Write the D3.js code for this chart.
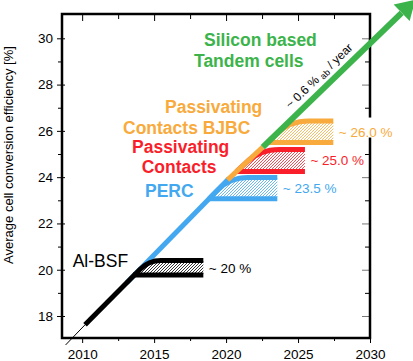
<!DOCTYPE html>
<html><head><meta charset="utf-8">
<script src="https://cdn.jsdelivr.net/npm/d3@7"></script>
<style>
html,body{margin:0;padding:0;background:#fff;}
svg{display:block;font-family:'Liberation Sans',Arial,Helvetica,sans-serif;}
</style></head><body>
<svg id="chart" width="413" height="361"></svg>
<script>
// ---------- data ----------
const xTicksMajor = [2010, 2015, 2020, 2025, 2030];
const xTicksMinor = [2012.5, 2017.5, 2022.5, 2027.5];
const yTicksMajor = [18, 20, 22, 24, 26, 28, 30];
const yTicksMinor = [19, 21, 23, 25, 27, 29];
const yTitle = "Average cell conversion efficiency [%]";

// efficiency trend line (year -> %)
const trendYears  = [2008.85, 2010.2, 2013.6, 2020.1, 2022.55, 2032.2];
const trendValues = [16.75,   17.62,  19.75,  23.88,  25.3,    31.1];

// segments of the trend line
const segNames     = ["thin", "Al-BSF", "PERC", "BJBC", "Tandem"];
const segStartYear = [2008.85, 2010.2, 2013.1, 2020.1, 2022.55];
const segEndYear   = [2010.2, 2013.7, 2020.2, 2022.55, 2032.2];

// technology bands
const techNames    = ["Al-BSF", "PERC", "Passivating Contacts", "Passivating Contacts BJBC"];
const bandBottom   = [19.77, 23.07, 24.24, 25.5];
const bandTop      = [20.4, 23.98, 25.19, 26.43];
const bandEndYear  = [2018.42, 2023.56, 2025.48, 2027.45];
const bandLabels   = ["~ 20 %", "~ 23.5 %", "~ 25.0 %", "~ 26.0 %"];
const nameLines    = [["Al-BSF"], ["PERC"], ["Passivating", "Contacts"], ["Passivating", "Contacts BJBC"]];
const tandemLines  = ["Silicon based", "Tandem cells"];
const rateText     = ["~ 0.6 % ", "ab", " / year"];

// ---------- styles / layout ----------
const FONT = "'Liberation Sans', Arial, Helvetica, sans-serif";
const C = {black: "#000000", blue: "#43a8f0", red: "#fa1e2b", orange: "#f8aa3c", green: "#3cb44b"};
const bandColors = [C.black, C.blue, C.red, C.orange];
const segColors = [C.black, C.black, C.blue, C.orange, C.green];
const segWidths = [1, 5, 5, 5, 6];
const nameLayout = [
  [[72.7, 266.7]],
  [[145, 196.7]],
  [[132, 153.3], [141.7, 173.3]],
  [[165, 113.3], [123, 134.3]]
];
const nameWeight = ["normal", "bold", "bold", "bold"];
const tandemLayout = [[204, 46], [194, 66.7]];

const svg = d3.select("#chart");
const x = d3.scaleLinear().domain([2008.6, 2030]).range([62, 370]);
const y = d3.scaleLinear().domain([17.05, 31.05]).range([338, 14]);
const trend = d3.scaleLinear().domain(trendYears).range(trendValues);
const fmt = d3.format("d");

// patterns
const defs = svg.append("defs");
bandColors.forEach((c, i) => {
  const p = defs.append("pattern").attr("id", "hatch" + i)
    .attr("patternUnits", "userSpaceOnUse").attr("width", 3).attr("height", 3);
  p.append("rect").attr("width", 3).attr("height", 3).attr("fill", "#fff");
  p.append("path").attr("d", "M-1,1 l2,-2 M0,3 l3,-3 M2,4 l2,-2")
    .attr("stroke", c).attr("stroke-width", 0.8);
});

// ---------- axes ----------
const F = 13.5;
const gL = svg.append("g").attr("transform", "translate(62,0)")
  .call(d3.axisLeft(y).tickValues(yTicksMajor).tickSize(5).tickPadding(4).tickFormat(fmt));
gL.selectAll(".tick line").attr("x1", 3).attr("x2", -5);
svg.append("g").attr("transform", "translate(62,0)")
  .call(d3.axisLeft(y).tickValues(yTicksMinor).tickSize(4).tickFormat(""));
svg.append("g").attr("transform", "translate(0,338)")
  .call(d3.axisBottom(x).tickValues(xTicksMajor).tickSize(5).tickPadding(6).tickFormat(fmt));
svg.append("g").attr("transform", "translate(0,338)")
  .call(d3.axisBottom(x).tickValues(xTicksMinor).tickSize(3).tickFormat(""));
svg.append("g").attr("transform", "translate(0,14)")
  .call(d3.axisTop(x).tickValues(xTicksMajor).tickSize(-7).tickFormat(""));
svg.append("g").attr("transform", "translate(0,14)")
  .call(d3.axisTop(x).tickValues(xTicksMinor).tickSize(-5).tickFormat(""));
const gR = svg.append("g").attr("transform", "translate(370,0)")
  .call(d3.axisRight(y).tickValues(yTicksMajor).tickSize(-8).tickFormat(""));
svg.append("g").attr("transform", "translate(370,0)")
  .call(d3.axisRight(y).tickValues(yTicksMinor).tickSize(-5).tickFormat(""));
svg.selectAll(".domain").remove();
svg.selectAll(".tick text").attr("font-size", F).attr("font-family", FONT).attr("fill", "#000");
svg.selectAll(".tick line").attr("stroke-width", 1);
gR.selectAll(".tick line").attr("stroke", "#777");

// frame
svg.append("rect").attr("x", x.range()[0]).attr("y", y.range()[1])
  .attr("width", x.range()[1] - x.range()[0]).attr("height", y.range()[0] - y.range()[1])
  .attr("fill", "none").attr("stroke", "#000").attr("stroke-width", 2.5);

// y title
svg.append("text").attr("transform", "translate(12.5,155) rotate(-90)")
  .attr("text-anchor", "middle").attr("font-size", 13).attr("font-family", FONT).text(yTitle);

// ---------- trend line segments ----------
const lineGen = d3.line().x(d => x(d)).y(d => y(trend(d)));
function drawSeg(i) {
  svg.append("path").attr("d", lineGen([segStartYear[i], segEndYear[i]]))
    .attr("fill", "none").attr("stroke", segColors[i]).attr("stroke-width", segWidths[i]);
}

// ---------- bands ----------
function drawBand(i) {
  const t0 = trend.invert(bandBottom[i]);
  const t1 = trend.invert(bandTop[i]);
  const p0 = [x(t0), y(bandBottom[i])];
  const pc = [x(t1), y(bandTop[i])];
  const pe = [x(bandEndYear[i]), y(bandTop[i])];
  const pb = [x(bandEndYear[i]), y(bandBottom[i])];
  const dx = pc[0] - p0[0], dy = pc[1] - p0[1];
  const len = Math.hypot(dx, dy);
  const r = len * 0.6;
  const A = [pc[0] - dx / len * r, pc[1] - dy / len * r];
  const B = [pc[0] + r, pc[1]];
  const top = `M${p0}L${A}Q${pc} ${B}L${pe}`;
  svg.append("path").attr("d", top + `L${pb}Z`).attr("fill", `url(#hatch${i})`);
  svg.append("path").attr("d", `M${p0}L${pb}`).attr("stroke", bandColors[i])
    .attr("stroke-width", 5).attr("fill", "none");
  svg.append("path").attr("d", top).attr("stroke", bandColors[i])
    .attr("stroke-width", 5).attr("fill", "none");
  // value label
  const lab = svg.append("text").attr("x", pe[0] + 5.5).attr("y", (pe[1] + pb[1]) / 2)
    .attr("dy", "0.36em").attr("font-size", F).attr("font-family", FONT)
    .attr("fill", i === 0 ? "#000" : bandColors[i])
    .text(bandLabels[i]);
  if (i === 3) {
    const bb = lab.node().getBBox();
    svg.insert("rect", function () { return lab.node(); })
      .attr("x", bb.x - 1).attr("y", bb.y - 7).attr("width", bb.width + 2)
      .attr("height", bb.height + 5).attr("fill", "#fff");
  }
}

drawSeg(2);   // blue
drawSeg(0);   // thin
drawSeg(1);   // black
drawBand(0);
drawBand(1);
drawBand(2);
drawSeg(3);   // orange
drawBand(3);
drawSeg(4);   // green

// arrow head
{
  const s = [x(segStartYear[4]), y(trend(segStartYear[4]))];
  const e = [x(segEndYear[4]), y(trend(segEndYear[4]))];
  const dx = e[0] - s[0], dy = e[1] - s[1], L = Math.hypot(dx, dy);
  const ux = dx / L, uy = dy / L, nx = -uy, ny = ux;
  const tip = [e[0] + ux * 19, e[1] + uy * 19];
  const w1 = [e[0] + nx * 11.5, e[1] + ny * 11.5];
  const w2 = [e[0] - nx * 11.5, e[1] - ny * 11.5];
  svg.append("path").attr("d", `M${tip}L${w1}L${w2}Z`).attr("fill", C.green);

  // rate text
  const tr = 2024.85;
  const p = [x(tr), y(trend(tr))];
  const ang = Math.atan2(dy, dx) * 180 / Math.PI;
  const off = 8;
  const px = p[0] + uy * off, py = p[1] - ux * off;
  const t = svg.append("text").attr("transform", `translate(${px},${py}) rotate(${ang})`)
    .attr("font-size", 12).attr("font-family", FONT).attr("fill", "#000");
  t.append("tspan").text(rateText[0]);
  t.append("tspan").attr("font-size", 9).attr("dy", 2).text(rateText[1]);
  t.append("tspan").attr("dy", -2).text(rateText[2]);
}

// ---------- technology names ----------
nameLines.forEach((lines, i) => {
  lines.forEach((ln, j) => {
    svg.append("text").attr("x", nameLayout[i][j][0]).attr("y", nameLayout[i][j][1])
      .attr("font-size", 17.5).attr("font-weight", nameWeight[i]).attr("font-family", FONT)
      .attr("fill", bandColors[i]).text(ln);
  });
});
tandemLines.forEach((ln, j) => {
  svg.append("text").attr("x", tandemLayout[j][0]).attr("y", tandemLayout[j][1])
    .attr("font-size", 17.5).attr("font-weight", "bold").attr("font-family", FONT)
    .attr("fill", C.green).text(ln);
});
</script>
</body></html>
